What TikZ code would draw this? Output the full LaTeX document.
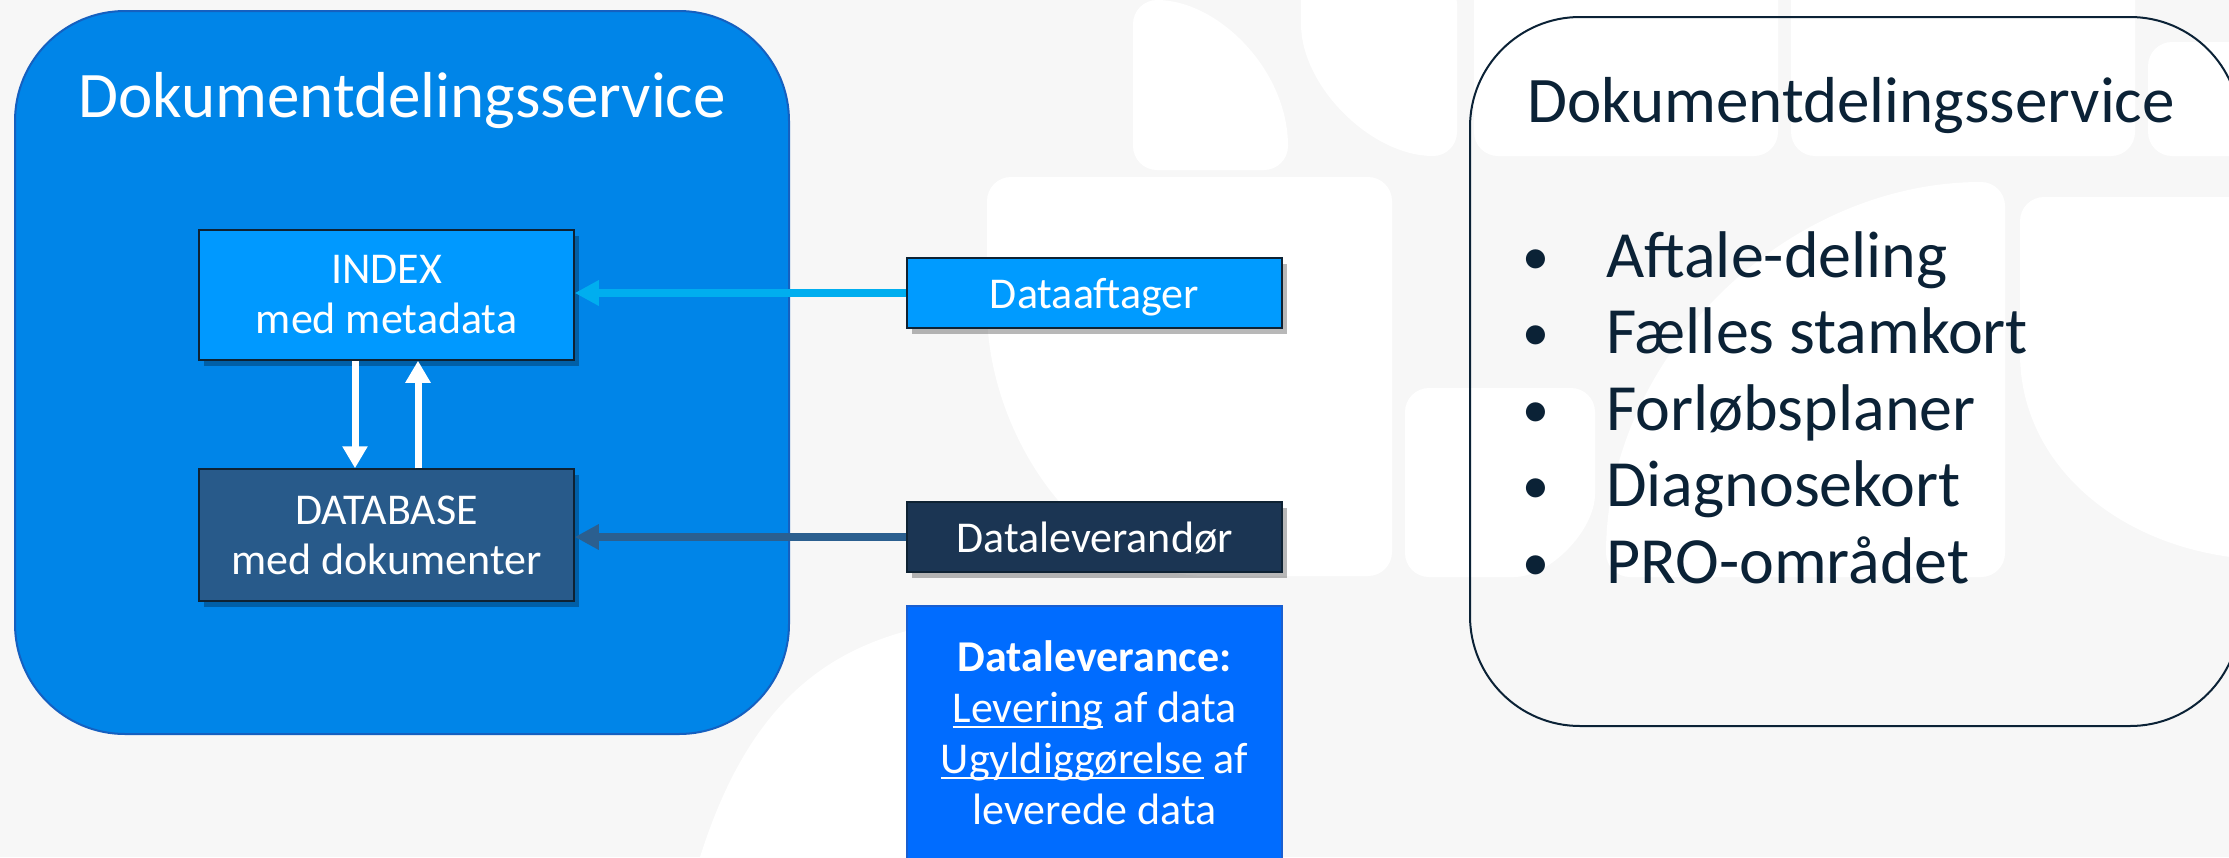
\documentclass[tikz,border=0pt]{standalone}
\usepackage{fontspec}
\setmainfont{Carlito}
\usetikzlibrary{arrows.meta,shadows}
\definecolor{bgcol}{HTML}{F7F7F7}
\definecolor{lboxfill}{HTML}{0085E8}
\definecolor{lboxline}{HTML}{1560C0}
\definecolor{indexfill}{HTML}{0099FF}
\definecolor{dbfill}{HTML}{285A8A}
\definecolor{daftfill}{HTML}{009BFF}
\definecolor{dlevfill}{HTML}{1B3553}
\definecolor{dlvfill}{HTML}{006CFF}
\definecolor{dlvline}{HTML}{1A5FD0}
\definecolor{arrcyan}{HTML}{00AEEF}
\definecolor{arrsteel}{HTML}{2B5F8F}
\definecolor{navytext}{HTML}{0B2236}
\definecolor{smallline}{HTML}{0E2233}
\newcommand{\myul}[1]{\leavevmode\setbox0=\hbox{#1}\rlap{\rule[-6pt]{\wd0}{2.2pt}}\box0\relax}
\begin{document}
\begin{tikzpicture}[x=1pt,y=-1pt,
  deco/.style={fill=white, rounded corners=24pt},
  bigbox/.style={rounded corners=110pt, line width=2pt, inner sep=0pt},
  smallbox/.style={draw=smallline, line width=1.5pt, text=white, inner sep=0pt,
    align=center, font=\fontsize{44}{50}\selectfont,
    drop shadow={shadow xshift=5pt, shadow yshift=-6pt, opacity=0.28, fill=black}},
  flowarrow/.style={line width=8pt, -{Triangle[length=24pt,width=24pt]}},
  whitearrow/.style={draw=white, line width=7pt, -{Triangle[length=22pt,width=24pt]}},
  bullettext/.style={anchor=base west, text=navytext, font=\fontsize{66}{77}\selectfont, inner sep=0pt},
  bulletdot/.style={anchor=base, text=navytext, font=\fontsize{54}{77}\selectfont, inner sep=0pt}
]
\useasboundingbox (0,0) rectangle (2229,857);
\clip (0,0) rectangle (2229,857);
\fill[bgcol] (0,0) rectangle (2229,857);

% background decoration
\fill[deco] (1133,170) -- (1133,0) .. controls (1218,0) and (1288,70) .. (1288,170) -- cycle;
\fill[deco] (1301,-20) -- (1457,-20) -- (1457,156) .. controls (1371,156) and (1301,86) .. (1301,0) -- cycle;
\fill[deco] (987,177) -- (1392,177) -- (1392,576) -- (1180,576) .. controls (1060,540) and (987,420) .. (987,285) -- cycle;
\fill[white] (700,857) .. controls (745,715) and (815,655) .. (910,630) -- (1200,620) -- (1200,857) -- cycle;
\fill[deco] (1474,-30) rectangle (1778,156);
\fill[deco] (1791,-30) rectangle (2135,156);
\fill[deco] (2148,42) rectangle (2280,156);
\fill[deco] (1606,577) .. controls (1606,357) and (1785,182) .. (2005,182) -- (2005,577) -- cycle;
\fill[deco] (1405,388) -- (1595,388) -- (1595,470) .. controls (1595,530) and (1550,577) .. (1490,577) -- (1405,577) -- cycle;
\fill[deco] (2020,197) -- (2300,197) -- (2300,560) .. controls (2130,560) and (2020,470) .. (2020,330) -- cycle;

% left service box
\node[bigbox, draw=lboxline, fill=lboxfill, minimum width=774pt, minimum height=723pt] (lbox) at (402,372.5) {};
\node[anchor=base, text=white, inner sep=0pt, font=\fontsize{65}{78}\selectfont] (ltitle) at (402,117) {Dokumentdelingsservice};

\node[smallbox, fill=indexfill, minimum width=375pt, minimum height=130pt] (index) at (386.5,295) {INDEX\\med metadata};
\node[smallbox, fill=dbfill, minimum width=375pt, minimum height=132pt] (db) at (386.5,535) {DATABASE\\med dokumenter};

\draw[whitearrow] ([xshift=-31.5pt]index.south) -- ([xshift=-31.5pt]db.north);
\draw[whitearrow] ([xshift=31.5pt]db.north) -- ([xshift=31.5pt]index.south);

% actors
\node[smallbox, fill=daftfill, minimum width=375pt, minimum height=70pt, text height=36pt, text depth=6pt] (daft) at (1094.5,293) {Dataaftager};
\node[smallbox, fill=dlevfill, minimum width=375pt, minimum height=70pt, text height=36pt, text depth=6pt] (dlev) at (1094.5,537) {Dataleverandør};

\draw[flowarrow, draw=arrcyan] (daft.west) -- (daft.west -| index.east);
\draw[flowarrow, draw=arrsteel] (dlev.west) -- (dlev.west -| db.east);

\node[fill=dlvfill, draw=dlvline, line width=1.5pt, minimum width=375pt, minimum height=300pt, anchor=north, inner sep=0pt] (dlvbox) at (1094.5,605) {};
\node[anchor=north, align=center, text=white, inner sep=0pt, font=\fontsize{44}{51}\selectfont] (dlvtext) at (1094.5,635)
  {\rule{0pt}{36pt}\textbf{Dataleverance:}\\\myul{Levering} af data\\\myul{Ugyldiggørelse} af\\leverede data};

% right service box
\node[bigbox, draw=navytext, minimum width=770pt, minimum height=709pt] (rbox) at (1855,371.5) {};
\node[anchor=base west, text=navytext, inner sep=0pt, font=\fontsize{65}{78}\selectfont] (rtitle) at (1527,122) {Dokumentdelingsservice};

\node[bulletdot] (b1) at (1536,274) {•};
\node[bullettext] (t1) at (1606,277) {Aftale-deling};
\node[bulletdot] (b2) at (1536,350.5) {•};
\node[bullettext] (t2) at (1606,353.5) {Fælles stamkort};
\node[bulletdot] (b3) at (1536,427) {•};
\node[bullettext] (t3) at (1606,430) {Forløbsplaner};
\node[bulletdot] (b4) at (1536,503.5) {•};
\node[bullettext] (t4) at (1606,506.5) {Diagnosekort};
\node[bulletdot] (b5) at (1536,580) {•};
\node[bullettext] (t5) at (1606,583) {PRO-området};
\end{tikzpicture}
\end{document}
